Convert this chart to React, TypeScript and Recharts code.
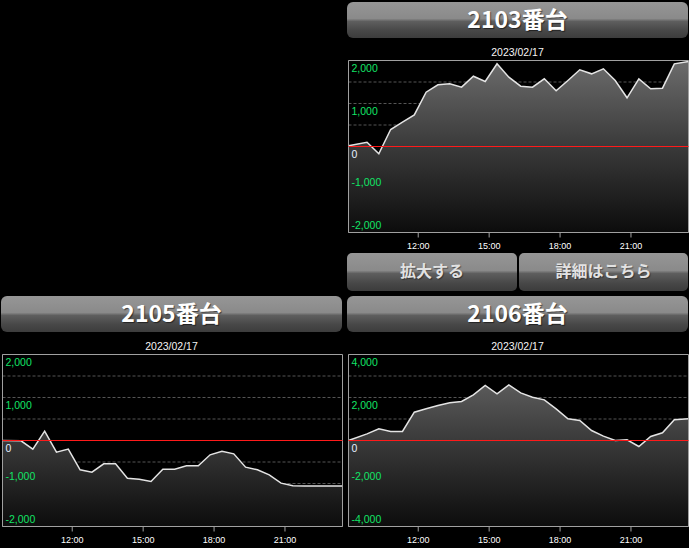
import React from 'react';
import { AreaChart, Area, XAxis, YAxis, CartesianGrid, ReferenceLine, ReferenceArea } from 'recharts';

// minutes since midnight
const times = [543, 590, 620, 650, 680, 710, 740, 770, 800, 830, 860, 890, 920, 950, 980, 1010, 1040, 1070, 1100, 1130, 1160, 1190, 1220, 1250, 1280, 1310, 1340, 1370, 1406];

const values2103 = [20, 100, -170, 395, 565, 735, 1263, 1435, 1458, 1380, 1635, 1512, 1923, 1612, 1403, 1380, 1574, 1295, 1535, 1784, 1690, 1807, 1535, 1133, 1574, 1342, 1356, 1923, 1977];
const values2105 = [0, -8, -200, 217, -271, -200, -682, -736, -543, -543, -876, -899, -953, -667, -667, -589, -589, -333, -248, -310, -620, -682, -798, -992, -1054, -1058, -1058, -1058, -1058];
const values2106 = [0, 310, 543, 419, 419, 1318, 1473, 1628, 1752, 1814, 2124, 2558, 2171, 2589, 2217, 2016, 1891, 1473, 1008, 930, 465, 202, 0, 31, -279, 186, 357, 961, 1008];

const xTicks = [720, 900, 1080, 1260];
const yTicks2000 = [-2000, -1500, -1000, -500, 0, 500, 1000, 1500, 2000];
const yTicks4000 = [-4000, -3000, -2000, -1000, 0, 1000, 2000, 3000, 4000];

const dateLabel = '2023/02/17';
const buttonLabels = ['拡大する', '詳細はこちら'];

const fmtTime = (m: number) => `${Math.floor(m / 60)}:${String(m % 60).padStart(2, '0')}`;
const fmtNum = (v: number) => (v < 0 ? '-' : '') + String(Math.abs(v)).replace(/\B(?=(\d{3})+(?!\d))/g, ',');

const glossBg = 'linear-gradient(to bottom, #969696 0%, #8a8a8a 46%, #5e5e5e 54%, #474747 80%, #3c3c3c 100%)';

const CHART_H = 196;
const PLOT_TOP = 2.5;
const XAXIS_H = 21.5;

function makeYTick(labelStep: number) {
  return (props: any) => {
    const { x, y, payload } = props;
    const v = payload.value as number;
    if (v % labelStep !== 0) return <g />;
    const dy = v >= 0 ? 7 : -8;
    return (
      <text
        x={x}
        y={y + dy}
        textAnchor="start"
        dominantBaseline="central"
        fontSize={10.5}
        fontFamily="'Liberation Sans', Arial, sans-serif"
        fill={v === 0 ? '#e6f0ff' : '#12e466'}
      >
        {fmtNum(v)}
      </text>
    );
  };
}

type PanelProps = {
  id: string;
  left: number;
  top: number;
  title: string;
  values: number[];
  yTicks: number[];
  labelStep: number;
};

function Panel({ id, left, top, title, values, yTicks, labelStep }: PanelProps) {
  const data = times.map((t, i) => ({ t, v: values[i] }));
  const lo = yTicks[0];
  const hi = yTicks[yTicks.length - 1];
  const plotBottom = CHART_H - XAXIS_H;
  return (
    <>
      <div
        style={{
          position: 'absolute',
          left,
          top,
          width: 341,
          height: 36,
          borderRadius: 6,
          background: glossBg,
          display: 'flex',
          alignItems: 'center',
          justifyContent: 'center',
          color: '#ffffff',
          fontFamily: "'Noto Sans CJK JP', sans-serif",
          fontWeight: 700,
          fontSize: 23,
          lineHeight: '36px',
          paddingBottom: 5,
          boxSizing: 'border-box',
          textShadow: '1px 1px 1px rgba(0,0,0,0.55)',
        }}
      >
        {title}
      </div>
      <div
        style={{
          position: 'absolute',
          left,
          top: top + 43,
          width: 341,
          height: 14,
          lineHeight: '14px',
          textAlign: 'center',
          color: '#f4f4f4',
          fontFamily: "'Liberation Sans', Arial, sans-serif",
          fontSize: 10.5,
        }}
      >
        {dateLabel}
      </div>
      <div style={{ position: 'absolute', left, top: top + 56 }}>
        <AreaChart width={342} height={CHART_H} data={data} margin={{ top: PLOT_TOP, right: 0.5, left: 1.5, bottom: 0 }}>
          <defs>
            <linearGradient id={id} gradientUnits="userSpaceOnUse" x1="0" y1={PLOT_TOP} x2="0" y2={plotBottom}>
              <stop offset="0%" stopColor="#6c6c6c" />
              <stop offset="50%" stopColor="#3a3a3a" />
              <stop offset="100%" stopColor="#0c0c0c" />
            </linearGradient>
          </defs>
          <CartesianGrid vertical={false} stroke="#555555" strokeDasharray="3 2" />
          <Area
            type="linear"
            dataKey="v"
            stroke="#e4e4e4"
            strokeWidth={1.5}
            fill={`url(#${id})`}
            fillOpacity={1}
            baseValue={lo}
            dot={false}
            activeDot={false}
            isAnimationActive={false}
          />
          <ReferenceLine y={0} stroke="#ff1a1a" strokeWidth={1} />
          <ReferenceArea y1={lo} y2={hi} fill="none" stroke="#a0a0a0" strokeWidth={1} ifOverflow="visible" />
          <XAxis
            dataKey="t"
            type="number"
            domain={['dataMin', 'dataMax']}
            ticks={xTicks}
            tickFormatter={fmtTime}
            height={XAXIS_H}
            axisLine={{ stroke: '#a0a0a0' }}
            tickLine={{ stroke: '#a0a0a0' }}
            tickSize={5}
            tickMargin={5}
            tick={{ fill: '#ffffff', fontSize: 9, fontFamily: "'Liberation Sans', Arial, sans-serif" }}
          />
          <YAxis
            type="number"
            domain={[lo, hi]}
            ticks={yTicks}
            mirror
            axisLine={false}
            tickLine={false}
            tickSize={0}
            tickMargin={3}
            interval={0}
            tick={makeYTick(labelStep)}
          />
        </AreaChart>
      </div>
    </>
  );
}

export default function App() {
  return (
    <div
      style={{
        position: 'absolute',
        left: 0,
        top: 0,
        width: 689,
        height: 548,
        background: '#000000',
        overflow: 'hidden',
      }}
    >
      <Panel id="g2103" left={347} top={2} title="2103番台" values={values2103} yTicks={yTicks2000} labelStep={1000} />
      <Panel id="g2105" left={1} top={296} title="2105番台" values={values2105} yTicks={yTicks2000} labelStep={1000} />
      <Panel id="g2106" left={347} top={296} title="2106番台" values={values2106} yTicks={yTicks4000} labelStep={2000} />
      {buttonLabels.map((b, i) => (
        <div
          key={b}
          style={{
            position: 'absolute',
            left: i === 0 ? 347 : 519,
            top: 253,
            width: i === 0 ? 170 : 169,
            height: 38,
            borderRadius: 5,
            background: glossBg,
            display: 'flex',
            alignItems: 'center',
            justifyContent: 'center',
            color: '#e2e2e2',
            fontFamily: "'Noto Sans CJK JP', sans-serif",
            fontWeight: 700,
            fontSize: 16,
            paddingBottom: 4,
            boxSizing: 'border-box',
            textShadow: '1px 1px 1px rgba(0,0,0,0.4)',
          }}
        >
          {b}
        </div>
      ))}
    </div>
  );
}
